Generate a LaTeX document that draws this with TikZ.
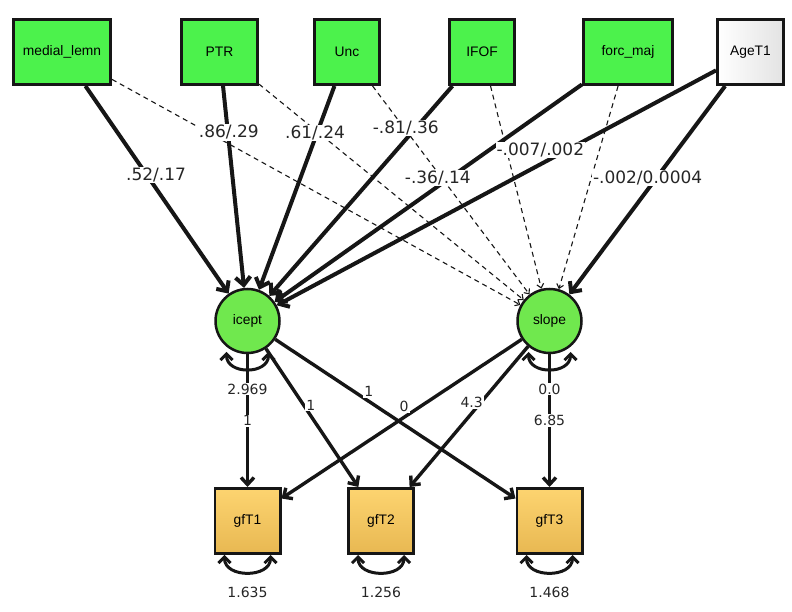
\documentclass[tikz,border=0pt]{standalone}
\usepackage{fontspec}
\setmainfont{Liberation Sans}
\newfontfamily\coeffont{DejaVu Sans}
\usetikzlibrary{arrows.meta}
\usetikzlibrary{positioning}
\definecolor{obsgreen}{RGB}{76,242,76}
\definecolor{latgreen}{RGB}{112,232,78}
\definecolor{gfhigh}{RGB}{253,212,112}
\definecolor{gflow}{RGB}{232,184,82}
\definecolor{inkgray}{RGB}{22,22,22}
\tikzset{obs/.style = {draw=inkgray, line width=2.8pt, minimum height=65.2pt,
                       inner sep=2pt, font=\fontsize{13.8}{15}\selectfont},
         pred/.style = {obs, fill=obsgreen},
         outc/.style = {obs, minimum width=65.2pt, top color=gfhigh, bottom color=gflow},
         lat/.style = {circle, draw=inkgray, line width=2.5pt, fill=latgreen,
                       minimum size=64pt, inner sep=0pt, font=\fontsize{13.8}{15}\selectfont},
         freepath/.style = {draw=inkgray, line width=4pt,
                            -{Straight Barb[length=8pt,width=15pt]}},
         loadpath/.style = {draw=inkgray, line width=3.4pt,
                            -{Straight Barb[length=7pt,width=13pt]}},
         fixedpath/.style = {draw=inkgray, line width=1.1pt, dash pattern=on 5pt off 4pt,
                             -{Straight Barb[length=4pt,width=7pt]}},
         varloop/.style = {draw=inkgray, line width=3pt,
                           {Straight Barb[length=6pt,width=12pt]}-{Straight Barb[length=6pt,width=12pt]}},
         coef/.style = {fill=white, inner sep=1pt, text=black!85,
                        font=\coeffont\fontsize{17}{19}\selectfont},
         lowcoef/.style = {coef, font=\coeffont\fontsize{14}{16}\selectfont},
         varlbl/.style = {lowcoef, below=12pt}}

\begin{document}
\begin{tikzpicture}[x=1pt, y=1pt]
  \useasboundingbox (0,0) rectangle (792,612);

  \node [pred, minimum width=97.2pt] (medial) at (62,560) {medial\_lemn};
  \node [pred, minimum width=76.2pt] (ptr) at (219.5,560) {PTR};
  \node [pred, minimum width=65.2pt] (unc) at (347,560) {Unc};
  \node [pred, minimum width=65.2pt] (ifof) at (482,560) {IFOF};
  \node [pred, minimum width=89.2pt] (forc) at (628,560) {forc\_maj};
  \node [obs, minimum width=66.2pt, left color=white, right color=gray!22] (age) at (750.5,560) {AgeT1};

  \node [lat] (icept) at (247.5,291) {icept};
  \node [lat] (slope) at (549.5,291) {slope};

  \node [outc] (gfT1) at (247.5,91) {gfT1};
  \node [outc] (gfT2) at (381,91) {gfT2};
  \node [outc] (gfT3) at (549.5,91) {gfT3};

  \draw [fixedpath] (medial) -- (slope);
  \draw [fixedpath] (ptr) -- (slope);
  \draw [fixedpath] (unc) -- (slope);
  \draw [fixedpath] (ifof) -- (slope);
  \draw [fixedpath] (forc) -- (slope);

  \draw [freepath] (medial) -- (icept);
  \draw [freepath] (ptr) -- (icept);
  \draw [freepath] (unc) -- (icept);
  \draw [freepath] (ifof) -- (icept);
  \draw [freepath] (forc) -- (icept);
  \draw [freepath] (age) -- (icept);
  \draw [freepath] (age) -- (slope);

  \draw [loadpath] (icept) -- (gfT1);
  \draw [loadpath] (icept) -- (gfT2);
  \draw [loadpath] (icept) -- (gfT3);
  \draw [loadpath] (slope) -- (gfT1);
  \draw [loadpath] (slope) -- (gfT2);
  \draw [loadpath] (slope) -- (gfT3);

  \path (medial) -- (icept) node [coef, pos=.43, xshift=9pt] {.52/.17};
  \path (ptr) -- (icept) node [coef, pos=.23, xshift=1pt] {.86/.29};
  \path (unc) -- (icept) node [coef, pos=.23, xshift=-2pt] {.61/.24};
  \path (ifof) -- (icept) node [coef, pos=.2, xshift=-10pt] {-.81/.36};
  \path (forc) -- (icept) node [coef, pos=.43, xshift=-12pt] {-.36/.14};
  \path (age) -- (icept) node [coef, pos=.4, yshift=14pt] {-.007/.002};
  \path (age) -- (slope) node [coef, pos=.44, xshift=-9pt] {-.002/0.0004};

  \path (icept) -- (gfT1) node [lowcoef, midway] {1};
  \path (icept) -- (gfT2) node [lowcoef, pos=.41, xshift=7pt] {1};
  \path (icept) -- (gfT3) node [lowcoef, pos=.39, yshift=10pt] {1};
  \path (slope) -- (gfT1) node [lowcoef, pos=.49, yshift=11pt] {0};
  \path (slope) -- (gfT2) node [lowcoef, pos=.4, xshift=-9pt] {4.3};
  \path (slope) -- (gfT3) node [lowcoef, midway] {6.85};

  \draw [varloop] ([xshift=-21pt, yshift=-31pt]icept.center) to [out=-90, in=-90, looseness=1.4]
    node [varlbl] {2.969} ([xshift=21pt, yshift=-31pt]icept.center);
  \draw [varloop] ([xshift=-21pt, yshift=-31pt]slope.center) to [out=-90, in=-90, looseness=1.4]
    node [varlbl] {0.0} ([xshift=21pt, yshift=-31pt]slope.center);
  \draw [varloop] ([xshift=-23pt]gfT1.south) to [out=-90, in=-90, looseness=1.3]
    node [varlbl] {1.635} ([xshift=23pt]gfT1.south);
  \draw [varloop] ([xshift=-23pt]gfT2.south) to [out=-90, in=-90, looseness=1.3]
    node [varlbl] {1.256} ([xshift=23pt]gfT2.south);
  \draw [varloop] ([xshift=-23pt]gfT3.south) to [out=-90, in=-90, looseness=1.3]
    node [varlbl] {1.468} ([xshift=23pt]gfT3.south);
\end{tikzpicture}
\end{document}
